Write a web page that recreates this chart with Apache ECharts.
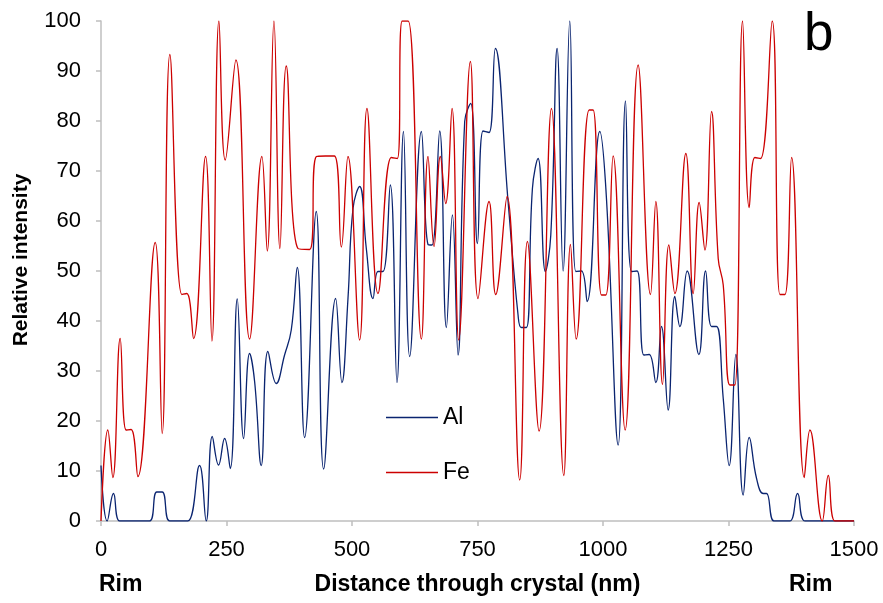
<!DOCTYPE html>
<html>
<head>
<meta charset="utf-8">
<title>Relative intensity profile</title>
<script src="https://cdn.jsdelivr.net/npm/echarts@6/dist/echarts.min.js"></script>
<style>
  html, body { margin: 0; padding: 0; background: #fff; }
  #chart { width: 883px; height: 603px; }
</style>
</head>
<body>
<div id="chart"></div>
<script>
// Line-scan profile across the crystal, rim to rim (distance in nm).
var xTicks = [0, 250, 500, 750, 1000, 1250, 1500];
var yTicks = [0, 10, 20, 30, 40, 50, 60, 70, 80, 90, 100];

var alDistance = [
  0, 12.3, 24.9, 36.9, 55, 75, 96.7, 111, 122, 136.5, 155, 173, 196.3, 209.6,
  221.6, 234.2, 246.2, 257.5, 271.4, 284.1, 296, 306, 319.2, 332.5, 349.1,
  365.7, 379, 391, 405.6, 428.8, 443.5, 467.4, 480, 492, 502, 515.2, 528.5,
  541.8, 551.8, 561.7, 576.3, 589.6, 602.5, 614.9, 638.2, 651.4, 659.4, 674.7,
  688, 700, 711.2, 724.5, 736.5, 749.8, 761.1, 773, 785.6, 810.9, 830.8,
  837.5, 847.4, 859.4, 870.7, 885.3, 896, 908.6, 920.5, 933.8, 945.8, 957.1,
  968.4, 993.6, 1006.9, 1030.2, 1044.8, 1056.7, 1068, 1081.3, 1092, 1105.2,
  1116.5, 1129.8, 1143.1, 1153.1, 1167.7, 1191, 1204.3, 1216.2, 1226.2,
  1239.5, 1251.4, 1264.7, 1279.3, 1291.3, 1305.9, 1319.2, 1325.8, 1340.5,
  1356, 1372.4, 1387.6, 1402.3, 1430, 1465, 1500
];
var alIntensity = [
  11.1, 0, 5.5, 0, 0, 0, 0, 5.8, 5.8, 0, 0, 0, 11.1, 0,
  16.9, 11.2, 16.5, 10.5, 44.4, 16.5, 33.5, 27.9, 11.1, 33.9, 27.5,
  33.2, 38.2, 50.7, 16.7, 61.9, 10.4, 44.5, 27.7, 44.5, 62.5, 66.9, 54.5,
  44.5, 49.9, 49.9, 67.2, 27.7, 77.9, 32.9, 77.9, 55.3, 55.2, 78,
  38.7, 61.2, 33.2, 79.9, 83.5, 55.5, 78, 77.7, 94.5, 63.9, 41.2,
  38.7, 38.7, 66.5, 72.5, 49.9, 57.2, 94.5, 50, 100, 49.9, 50,
  43.9, 77.9, 64.5, 15.2, 84, 49.9, 50, 33.2, 33.3, 27.7,
  38.9, 22.2, 44.9, 38.9, 50, 33.3, 50, 38.9, 38.9,
  24.5, 11.1, 33.3, 5.2, 16.7, 8.5, 5.5, 5.5, 0,
  0, 0, 5.5, 0, 0, 0, 0
];

var feDistance = [
  0, 13.6, 23.6, 38.2, 50, 60, 73.4, 108, 121.9, 137.2, 161, 171, 184.4,
  208.3, 221, 234.9, 247.5, 268.7, 296, 320.5, 331.2, 344.5, 356.4, 369,
  392.3, 415.6, 429, 447, 465, 478.7, 492, 515.2, 529.8, 551.8, 578.3, 590.3,
  600, 612, 638.2, 651.4, 663.4, 676, 686.6, 699.3, 712.6, 735.8, 751.1, 773,
  786.3, 808.9, 834.1, 849.4, 872.7, 897.3, 921.9, 935.2, 946.5, 972.4,
  980.3, 997, 1005.6, 1020.2, 1044.1, 1070, 1094.6, 1105.2, 1118.5, 1131.2,
  1143.1, 1165, 1179.7, 1191.6, 1203, 1216.2, 1229.5, 1239.5, 1252.8,
  1262.7, 1278, 1291.3, 1302.6, 1313.9, 1337.1, 1352.4, 1362.4, 1375.7,
  1400.9, 1412.2, 1436.8, 1448.8, 1462, 1480, 1500
];
var feIntensity = [
  0, 18.2, 8.7, 36.5, 18.2, 18.3, 8.9, 55.7, 17.5, 93.3, 45.3, 45.5, 36.5,
  72.9, 36, 100, 72.2, 92.2, 36.4, 72.9, 54, 100, 54.5, 91,
  54.5, 54.3, 72.9, 73, 73, 54.8, 72.9, 36.2, 82.5, 45.5, 72.7, 72.5,
  100, 100, 36.4, 72.9, 54.9, 72.9, 63.5, 82.5, 36.2, 91.9, 44.5, 63.9,
  45.3, 64.9, 8.2, 55.9, 18, 82.5, 9.1, 55.3, 36.4, 82.2,
  82.2, 45.2, 45.2, 73, 18.2, 91.2, 45.3, 63.9, 27.3, 55.2,
  45.5, 73.5, 45.5, 63.7, 54.2, 81.9, 52.5, 47.2, 27.2,
  27.2, 100, 62.7, 72.7, 72.5, 100, 45.3, 45.3, 72.7,
  8.7, 18.2, 0, 9.1, 0, 0, 0
];

function pairs(xs, ys) {
  return xs.map(function (x, i) { return [x, ys[i]]; });
}

var FONT = "'Liberation Sans', Arial, sans-serif";
var AXIS_GREY = '#bfbfbf';

var chart = echarts.init(document.getElementById('chart'), null, { renderer: 'canvas' });

chart.setOption({
  animation: false,
  backgroundColor: '#ffffff',
  textStyle: { fontFamily: FONT, color: '#000' },
  grid: { left: 101, right: 29, top: 21, bottom: 82, containLabel: false },
  legend: {
    data: ['Al', 'Fe'],
    orient: 'vertical',
    left: 381,
    top: 401,
    itemGap: 32,
    itemWidth: 52,
    itemHeight: 1.5,
    icon: 'rect',
    textStyle: { fontFamily: FONT, fontSize: 23, color: '#000' }
  },
  xAxis: {
    type: 'value',
    min: xTicks[0],
    max: xTicks[xTicks.length - 1],
    interval: xTicks[1] - xTicks[0],
    name: 'Distance through crystal (nm)',
    nameLocation: 'middle',
    nameGap: 52,
    nameTextStyle: { fontFamily: FONT, fontSize: 23, fontWeight: 'bold', color: '#000' },
    axisLine: { show: true, onZero: false, lineStyle: { color: AXIS_GREY, width: 1.5 } },
    axisTick: { show: true, length: 5, lineStyle: { color: AXIS_GREY, width: 1.5 } },
    axisLabel: {
      margin: 18, fontSize: 22, color: '#000', fontFamily: FONT,
      formatter: function (v) { return String(v); }
    },
    splitLine: { show: false }
  },
  yAxis: {
    type: 'value',
    min: yTicks[0],
    max: yTicks[yTicks.length - 1],
    interval: yTicks[1] - yTicks[0],
    axisLine: { show: true, lineStyle: { color: AXIS_GREY, width: 1.5 } },
    axisTick: { show: true, length: 5, lineStyle: { color: AXIS_GREY, width: 1.5 } },
    axisLabel: { margin: 20, fontSize: 22, color: '#000', fontFamily: FONT },
    splitLine: { show: false }
  },
  graphic: [
    {
      type: 'text', x: 21, y: 260, rotation: Math.PI / 2,
      style: { text: 'Relative intensity', font: 'bold 21px ' + FONT, fill: '#000',
               textAlign: 'center', textVerticalAlign: 'middle' }
    },
    {
      type: 'text', x: 99, y: 573,
      style: { text: 'Rim', font: 'bold 23px ' + FONT, fill: '#000',
               textAlign: 'left', textVerticalAlign: 'top' }
    },
    {
      type: 'text', x: 789, y: 573,
      style: { text: 'Rim', font: 'bold 23px ' + FONT, fill: '#000',
               textAlign: 'left', textVerticalAlign: 'top' }
    },
    {
      type: 'text', x: 804, y: 9,
      style: { text: 'b', font: '53px ' + FONT, fill: '#000',
               textAlign: 'left', textVerticalAlign: 'top' }
    }
  ],
  series: [
    {
      name: 'Al',
      type: 'line',
      data: pairs(alDistance, alIntensity),
      smooth: 0.45,
      showSymbol: false,
      symbol: 'none',
      clip: true,
      lineStyle: { color: '#0a2470', width: 1.3 },
      itemStyle: { color: '#0a2470' }
    },
    {
      name: 'Fe',
      type: 'line',
      data: pairs(feDistance, feIntensity),
      smooth: 0.45,
      showSymbol: false,
      symbol: 'none',
      clip: true,
      lineStyle: { color: '#cc0000', width: 1.3 },
      itemStyle: { color: '#cc0000' }
    }
  ]
});
</script>
</body>
</html>
